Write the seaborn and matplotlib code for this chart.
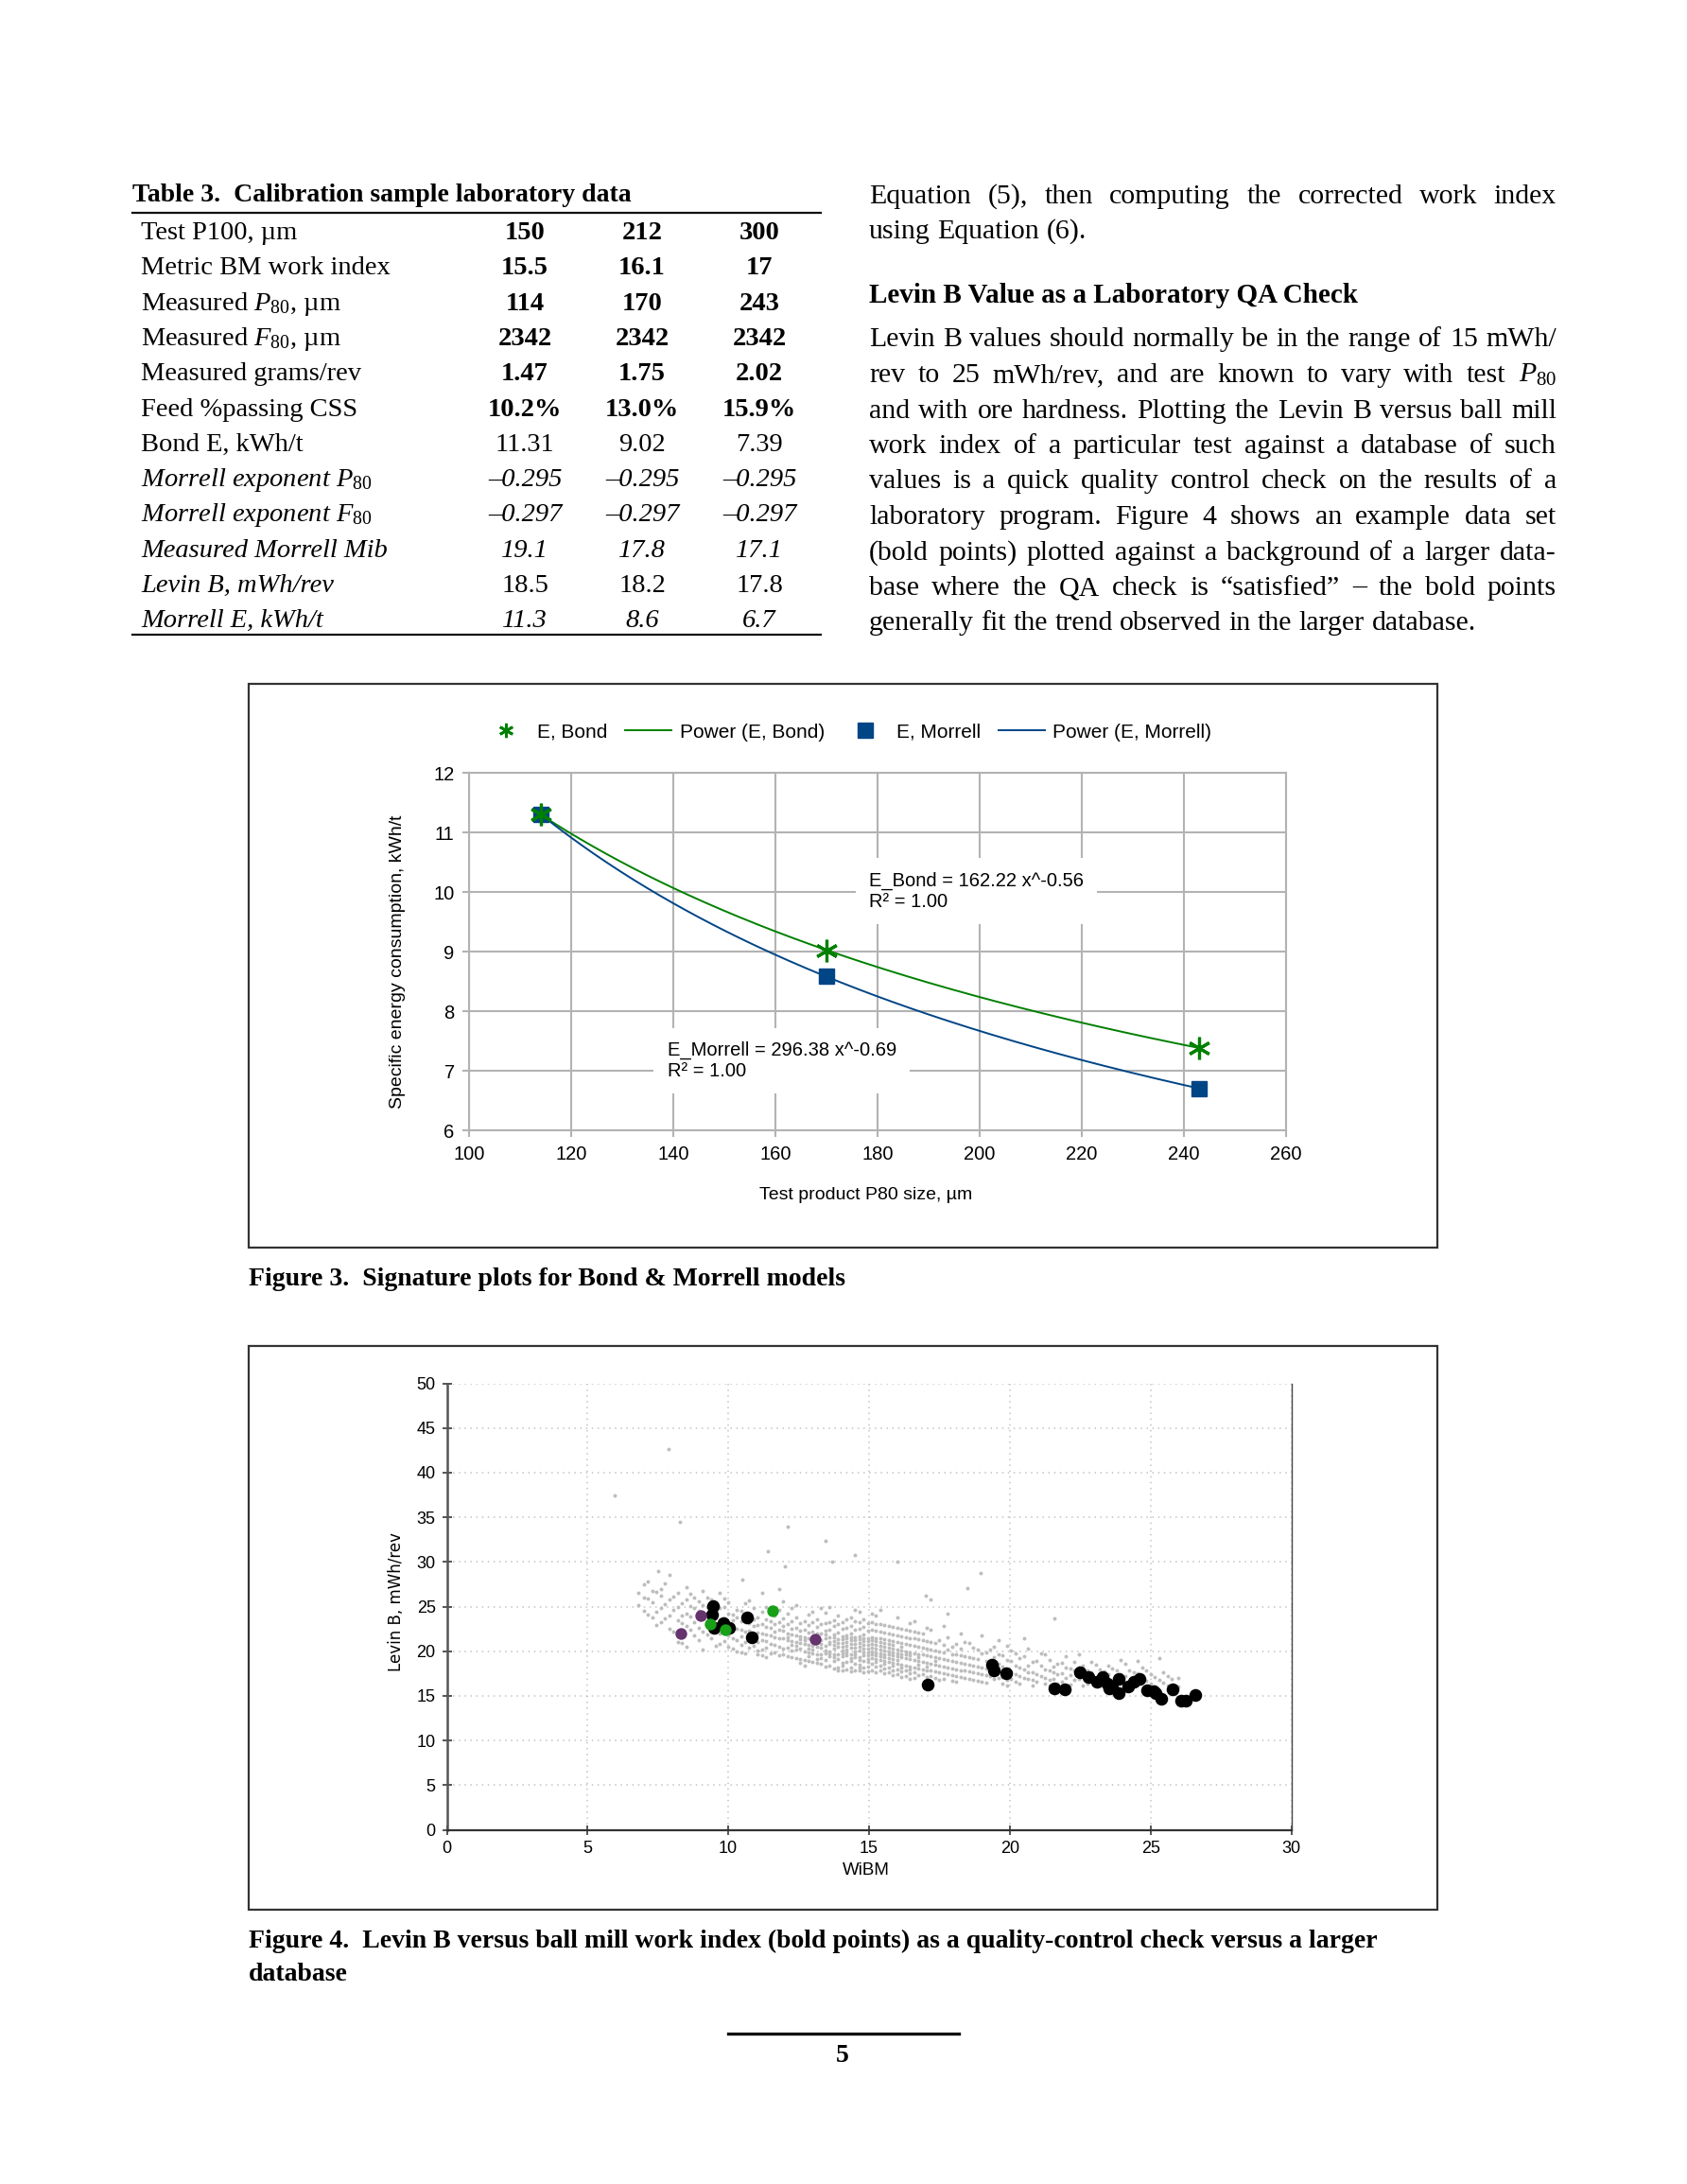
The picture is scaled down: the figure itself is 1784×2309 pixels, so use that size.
import numpy as np
import pandas as pd
import seaborn as sns
import matplotlib.pyplot as plt
from matplotlib.lines import Line2D
from matplotlib.patches import Rectangle

W, H = 1784, 2309
SERIF = 'Liberation Serif'
SANS = 'Liberation Sans'
NARROW = ['Liberation Sans Narrow', 'Liberation Sans']

plt.rcParams['font.family'] = [SANS, 'DejaVu Sans']
plt.rcParams['mathtext.fontset'] = 'custom'
plt.rcParams['mathtext.rm'] = SERIF
plt.rcParams['mathtext.it'] = SERIF + ':italic'
plt.rcParams['mathtext.bf'] = SERIF + ':bold'

# ---- Table 3 ----
row_labels = ['Test P100, µm', 'Metric BM work index', 'Measured $P_{80}$, µm', 'Measured $F_{80}$, µm',
              'Measured grams/rev', 'Feed %passing CSS', 'Bond E, kWh/t', 'Morrell exponent $P_{80}$',
              'Morrell exponent $F_{80}$', 'Measured Morrell Mib', 'Levin B, mWh/rev', 'Morrell E, kWh/t']
vals_150 = ['150', '15.5', '114', '2342', '1.47', '10.2%', '11.31', '–0.295', '–0.297', '19.1', '18.5', '11.3']
vals_212 = ['212', '16.1', '170', '2342', '1.75', '13.0%', '9.02', '–0.295', '–0.297', '17.8', '18.2', '8.6']
vals_300 = ['300', '17', '243', '2342', '2.02', '15.9%', '7.39', '–0.295', '–0.297', '17.1', '17.8', '6.7']
label_style = ['normal'] * 7 + ['italic'] * 5
value_weight = ['bold'] * 6 + ['normal'] * 6
value_style = ['normal'] * 7 + ['italic', 'italic', 'italic', 'normal', 'italic']

# ---- right column text ----
intro_lines = ['Equation (5), then computing the corrected work index', 'using Equation (6).']
heading = 'Levin B Value as a Laboratory QA Check'
para_lines = ['Levin B values should normally be in the range of 15 mWh/',
              'rev to 25 mWh/rev, and are known to vary with test $P_{80}$',
              'and with ore hardness. Plotting the Levin B versus ball mill',
              'work index of a particular test against a database of such',
              'values is a quick quality control check on the results of a',
              'laboratory program. Figure 4 shows an example data set',
              '(bold points) plotted against a background of a larger data-',
              'base where the QA check is “satisfied” – the bold points',
              'generally fit the trend observed in the larger database.']

# ---- Figure 3 data ----
p80 = [114, 170, 243]
e_bond = [11.31, 9.02, 7.39]
e_morrell = [11.3, 8.6, 6.7]

# ---- Figure 4 data ----
black_wibm = [9.46, 9.44, 9.50, 9.83, 10.03, 10.67, 10.84, 17.09, 19.38, 19.45, 19.88, 21.59, 21.97,
              22.48, 22.79, 23.10, 23.31, 23.45, 23.54, 23.65, 23.88, 23.88, 24.21, 24.40, 24.60, 24.88,
              25.10, 25.17, 25.39, 25.80, 26.09, 26.25, 26.59]
black_levin = [25.1, 24.1, 22.6, 23.1, 22.6, 23.8, 21.6, 16.3, 18.5, 17.8, 17.5, 15.8, 15.7,
               17.6, 17.1, 16.6, 17.1, 16.4, 15.8, 15.9, 16.9, 15.3, 16.0, 16.6, 16.9, 15.6,
               15.5, 15.3, 14.7, 15.7, 14.5, 14.5, 15.1]
purple_wibm = [8.31, 9.01, 13.08]
purple_levin = [21.95, 24.03, 21.35]
green_wibm = [9.34, 9.89, 11.58]
green_levin = [23.0, 22.44, 24.49]

# background database, one list of Levin B values per WiBM column
db_wibm = [6.8, 7.0, 7.3, 7.6, 7.9, 8.2, 8.5, 8.8, 9.1, 9.4, 9.7, 10.0, 10.3, 10.6, 10.9, 11.2, 11.5,
           11.8, 12.1, 12.4, 12.7, 13.0, 13.3, 13.6, 13.9, 14.2, 14.5, 14.8, 15.1, 15.4, 15.7, 16.0,
           16.3, 16.6, 16.9, 17.2, 17.5, 17.8, 18.1, 18.4, 18.7, 19.0, 19.3, 19.6, 19.9, 20.2, 20.5,
           20.8, 21.1, 21.4, 21.7, 22.0, 22.3, 22.6, 22.9, 23.2, 23.5, 23.8, 24.1, 24.4, 24.7, 25.0,
           25.3, 25.6, 26.0]
db_levin = [[26.5, 25.2], [27.5, 24.5, 26.0], [25.5, 26.8, 23.8], [26.2, 24.8, 23.2, 27.0],
            [25.8, 24.0, 22.5, 28.5], [25.0, 23.5, 26.5, 21.0], [24.2, 25.8, 22.8, 27.2, 20.5],
            [24.8, 23.2, 26.0, 21.8], [23.8, 25.2, 22.2, 20.2, 26.8], [24.2, 22.8, 21.5, 25.8],
            [23.5, 22.0, 24.8, 20.8, 26.5], [23.0, 21.8, 24.2, 20.5, 25.5, 22.6],
            [22.5, 23.8, 21.2, 20.0, 24.6], [22.2, 23.2, 21.0, 24.0, 19.8, 25.4],
            [22.8, 21.6, 20.6, 23.6, 24.8], [22.0, 21.2, 23.0, 20.2, 24.4, 19.5, 26.5],
            [21.8, 22.6, 20.8, 23.4, 19.8, 25.0], [21.5, 22.4, 20.5, 23.2, 19.5, 24.6, 27.0],
            [21.2, 22.0, 20.4, 23.0, 19.4, 24.2, 21.6], [21.0, 21.8, 20.2, 22.6, 19.2, 23.8, 20.6, 25.2],
            [20.8, 21.6, 20.0, 22.4, 19.0, 23.4, 21.2, 18.4],
            [20.6, 21.4, 19.8, 22.2, 18.8, 23.2, 20.2, 24.4, 21.0],
            [20.4, 21.2, 19.6, 22.0, 18.6, 23.0, 20.8, 19.2, 24.8],
            [20.8, 21.6, 20.0, 22.4, 19.4, 23.2, 18.4, 21.0, 19.8, 25.0],
            [20.5, 21.3, 19.7, 22.1, 19.1, 23.0, 18.2, 20.9, 24.0, 17.8],
            [20.2, 21.0, 19.5, 21.8, 18.8, 22.6, 18.0, 20.6, 19.9, 23.6, 21.4],
            [20.0, 20.8, 19.3, 21.6, 18.6, 22.4, 17.9, 20.4, 19.7, 23.4, 21.2, 24.6],
            [20.3, 21.1, 19.5, 21.9, 18.9, 22.7, 18.2, 20.7, 19.9, 23.6, 21.5, 17.6],
            [20.0, 20.8, 19.2, 21.6, 18.6, 22.4, 17.9, 20.4, 19.6, 23.2, 21.2, 24.2],
            [19.8, 20.6, 19.0, 21.4, 18.4, 22.2, 17.8, 20.2, 19.4, 23.0, 21.0, 24.6],
            [19.6, 20.4, 18.8, 21.2, 18.2, 22.0, 17.6, 20.0, 19.2, 22.8, 20.8],
            [19.4, 20.2, 18.6, 21.0, 18.0, 21.8, 17.4, 19.8, 19.0, 22.6, 23.8],
            [19.2, 20.0, 18.4, 20.8, 17.8, 21.6, 17.2, 19.6, 22.4],
            [19.0, 19.8, 18.2, 20.6, 17.6, 21.4, 17.0, 22.2, 23.4],
            [18.8, 19.6, 18.0, 20.4, 17.4, 21.2, 22.0], [18.6, 19.4, 17.8, 20.2, 17.2, 21.0, 22.4, 25.8],
            [18.4, 19.2, 17.6, 20.0, 21.2, 16.8], [18.2, 19.0, 17.4, 20.2, 21.6, 24.2],
            [18.0, 18.8, 17.2, 19.6, 20.8, 16.6], [17.8, 18.6, 19.4, 17.0, 21.0],
            [17.6, 18.4, 19.2, 20.4, 16.8], [17.4, 18.2, 19.8, 16.6, 21.8], [17.2, 18.0, 19.0, 20.2],
            [17.0, 18.6, 19.6, 21.2], [16.8, 17.8, 19.0, 20.6, 16.2], [17.4, 18.4, 19.8, 16.6],
            [17.0, 18.0, 19.4, 21.4], [16.8, 17.6, 18.8, 16.2], [17.2, 18.4, 19.8],
            [16.8, 17.8, 16.2, 19.0], [17.4, 18.6, 16.4], [17.0, 18.2, 16.0, 19.4], [16.8, 17.8, 18.8],
            [17.2, 16.2, 18.4], [17.6, 16.6, 18.8], [17.0, 18.0, 16.2], [17.4, 18.4, 15.8], [16.8, 17.8],
            [17.2, 18.6, 16.0], [16.6, 17.6], [17.0, 18.2], [16.4, 17.4], [16.8, 19.2], [16.2, 17.2],
            [16.0, 17.0]]
db2_wibm = [7.15, 7.45, 7.75, 8.05, 8.35, 8.65, 8.95, 9.25, 9.55, 9.85, 10.15, 10.45, 10.75, 11.05,
            11.35, 11.65, 11.95, 12.25, 12.55, 12.85, 13.15, 13.45, 13.75, 14.05, 14.35, 14.65, 14.95,
            15.25, 15.55, 15.85, 16.15, 16.45, 16.75, 17.05, 17.35, 17.65, 17.95, 18.25, 18.55, 18.85,
            19.15, 19.45, 19.75, 20.05, 20.35, 20.65, 20.95, 21.25, 21.55, 21.85, 22.15, 22.45, 22.75,
            23.05, 23.35, 23.65, 23.95, 24.25, 24.55, 24.85, 25.15, 25.45, 25.75]
db2_levin = [[25.9, 24.1, 27.8], [26.6, 24.4, 22.9], [25.3, 23.7, 27.6], [24.6, 26.1, 22.2],
             [25.4, 23.1, 24.0, 20.9], [23.9, 25.1, 22.4, 26.4], [24.5, 22.6, 21.2, 25.6],
             [23.4, 24.9, 21.9, 26.0], [23.1, 22.1, 24.6, 20.6], [23.7, 22.3, 21.1, 24.9, 25.9],
             [22.9, 21.5, 23.5, 20.3, 24.1], [22.4, 21.7, 23.4, 20.7, 19.9, 24.5],
             [22.3, 21.3, 23.1, 20.4, 24.2, 25.7], [22.1, 21.0, 22.9, 20.1, 23.8, 19.7],
             [21.9, 21.1, 22.7, 20.4, 23.6, 19.3, 24.9], [21.6, 22.2, 20.7, 23.0, 19.9, 24.0],
             [21.4, 22.3, 20.3, 22.8, 19.6, 23.7, 25.6], [21.1, 21.9, 20.1, 22.5, 19.3, 23.4, 20.7, 24.8],
             [20.9, 21.7, 20.3, 22.3, 19.1, 23.1, 21.3, 18.7],
             [20.7, 21.5, 19.9, 22.1, 18.9, 22.9, 20.3, 19.4, 24.1],
             [20.5, 21.3, 19.7, 22.0, 18.7, 22.7, 20.9, 19.1, 23.6, 21.7],
             [20.6, 21.5, 19.8, 22.3, 19.0, 23.1, 18.3, 20.1, 21.9, 24.3],
             [20.3, 21.1, 19.6, 21.9, 18.9, 22.8, 18.1, 20.7, 19.3, 23.5, 21.6],
             [20.1, 20.9, 19.4, 21.7, 18.7, 22.5, 17.9, 20.5, 19.8, 23.3, 21.3, 18.4],
             [20.4, 21.2, 19.6, 22.0, 18.9, 22.8, 18.2, 20.8, 19.2, 23.8, 21.6, 17.7],
             [20.1, 20.9, 19.3, 21.7, 18.5, 22.5, 17.8, 20.5, 19.0, 23.3, 21.3, 18.2, 24.4],
             [19.9, 20.7, 19.1, 21.5, 18.3, 22.3, 17.7, 20.3, 18.8, 23.1, 21.1, 19.5],
             [19.9, 20.7, 19.1, 21.5, 18.3, 22.3, 17.6, 20.3, 18.8, 23.0, 21.1, 19.5, 24.0],
             [19.7, 20.5, 18.9, 21.3, 18.1, 22.1, 17.5, 20.1, 18.6, 22.9, 20.9, 19.3],
             [19.5, 20.3, 18.7, 21.1, 17.9, 21.9, 17.3, 19.9, 18.4, 22.7, 20.7, 19.1],
             [19.3, 20.1, 18.5, 20.9, 17.7, 21.7, 17.1, 19.7, 18.2, 22.5, 20.5],
             [19.1, 19.9, 18.3, 20.7, 17.5, 21.5, 16.9, 19.5, 18.0, 22.3, 23.1],
             [18.9, 19.7, 18.1, 20.5, 17.3, 21.3, 18.5, 22.1, 19.3],
             [18.7, 19.5, 17.9, 20.3, 17.1, 21.1, 18.3, 22.6], [18.5, 19.3, 17.7, 20.1, 17.0, 20.9, 18.9],
             [18.3, 19.1, 17.5, 19.9, 20.7, 16.9, 22.8], [18.1, 18.9, 17.3, 19.7, 20.5, 16.7],
             [17.9, 18.7, 17.1, 19.5, 20.3, 22.0], [17.7, 18.5, 19.3, 16.9, 20.9],
             [17.5, 18.3, 19.1, 16.7, 20.2], [17.3, 18.1, 18.9, 19.9, 16.5], [16.9, 17.9, 19.3, 20.5],
             [17.1, 18.3, 19.5, 16.4], [16.9, 17.7, 18.9, 20.1], [17.2, 18.2, 16.4, 19.2],
             [16.9, 18.4, 17.6, 20.3], [16.6, 17.4, 18.9], [17.0, 18.0, 16.4, 19.6], [17.6, 16.9, 18.3],
             [16.6, 17.5, 18.7], [17.3, 16.3, 18.1], [16.9, 18.2, 19.6], [16.4, 17.9], [16.8, 18.5],
             [17.7, 16.0], [16.5, 18.1], [17.4, 19.0], [16.3, 17.8], [17.5, 18.9], [16.7, 17.9],
             [16.1, 17.1], [17.6, 16.5], [16.9]]
outlier_wibm = [5.97, 7.89, 8.29, 12.1, 13.44, 14.5, 16.0, 13.7, 11.4, 18.98, 18.5, 17.0, 21.6, 7.5, 12.0, 10.5]
outlier_levin = [37.5, 42.6, 34.5, 34.0, 32.4, 30.8, 30.0, 30.0, 31.2, 28.8, 27.1, 26.2, 23.7, 29.0, 29.5, 28.0]

all_wibm = db_wibm + db2_wibm
all_levin = db_levin + db2_levin
db = pd.DataFrame({
    'WiBM': np.concatenate([np.repeat(all_wibm, [len(c) for c in all_levin]), outlier_wibm]),
    'Levin B': np.concatenate([np.concatenate(all_levin), outlier_levin]),
})


fig = plt.figure(figsize=(W / 100, H / 100), dpi=100)
renderer = fig.canvas.get_renderer()


def fx(x):
    return x / W


def fy(y):
    return 1 - y / H


def hline(x0, x1, y, lw=1.6, color='#111111'):
    fig.add_artist(Line2D([fx(x0), fx(x1)], [fy(y), fy(y)], lw=lw, color=color))


def words_line(line, x0, y, size, x1=None, **kw):
    # place words one by one so that a line can be justified
    words = line.split()
    arts = [fig.text(fx(x0), fy(y), w, fontsize=size, family=SERIF, va='baseline', **kw) for w in words]
    widths = [a.get_window_extent(renderer).width for a in arts]
    if x1 is None or len(words) < 2:
        gap = size * 100 / 72 * 0.25
    else:
        gap = (x1 - x0 - sum(widths)) / (len(words) - 1)
    x = x0
    for a, w in zip(arts, widths):
        a.set_x(fx(x))
        x += w + gap


# ---- table ----
fig.text(fx(140), fy(213), 'Table 3.  Calibration sample laboratory data', family=SERIF,
         fontsize=20, weight='bold', va='baseline')
hline(140, 868, 224.5)
for i, lab in enumerate(row_labels):
    yb = 253 + 37.3 * i
    fig.text(fx(149), fy(yb), lab, family=SERIF, fontsize=20.5, style=label_style[i], va='baseline')
    for xc, col in zip([555, 679, 803], [vals_150, vals_212, vals_300]):
        fig.text(fx(xc), fy(yb), col[i], family=SERIF, fontsize=20.5, ha='center', va='baseline',
                 weight=value_weight[i], style=value_style[i])
hline(140, 868, 671)

# ---- right column ----
words_line(intro_lines[0], 919, 215, 21.5, x1=1646)
words_line(intro_lines[1], 919, 252, 21.5)
fig.text(fx(919), fy(320), heading, family=SERIF, fontsize=21, weight='bold', va='baseline')
for i, line in enumerate(para_lines):
    last = i == len(para_lines) - 1
    words_line(line, 919, 366.5 + 37.5 * i, 21.5, x1=None if last else 1646)

# ---- Figure 3 ----
fig.add_artist(Rectangle((fx(263), fy(1319)), 1257 / W, 596 / H, transform=fig.transFigure,
                         fill=False, ec='#333333', lw=1.6))
ax3 = fig.add_axes([fx(496), fy(1195.3), 864 / W, 378 / H])
green = '#008000'
blue = '#004586'
bond_fit = np.polyfit(np.log(p80), np.log(e_bond), 1)
morrell_fit = np.polyfit(np.log(p80), np.log(e_morrell), 1)
x_fit = np.linspace(p80[0], p80[-1], 150)
sns.lineplot(x=x_fit, y=np.exp(bond_fit[1]) * x_fit ** bond_fit[0], color=green, lw=1.4, ax=ax3, zorder=3)
sns.lineplot(x=x_fit, y=np.exp(morrell_fit[1]) * x_fit ** morrell_fit[0], color=blue, lw=1.4, ax=ax3, zorder=3)
sns.lineplot(x=p80, y=e_morrell, marker='s', ls='', ms=12, color=blue, mec=blue, mew=1, ax=ax3, zorder=4)
sns.lineplot(x=p80, y=e_bond, marker=(6, 2, 0), ls='', ms=17, color=green, mec=green, mew=2.3,
             ax=ax3, zorder=5)

ax3.set_xlim(100, 260)
ax3.set_ylim(6, 12)
ax3.set_xticks(range(100, 261, 20))
ax3.set_yticks(range(6, 13))
ax3.grid(True, color='#b3b3b3', lw=1.5)
ax3.set_axisbelow(True)
for s in ax3.spines.values():
    s.set_color('#b3b3b3')
    s.set_linewidth(1.5)
ax3.tick_params(length=5, width=1.5, color='#b3b3b3', labelsize=14.5, pad=6)
ax3.set_xlabel('Test product P80 size, µm', fontsize=14)
ax3.set_ylabel('Specific energy consumption, kWh/t', fontsize=14)
ax3.xaxis.set_label_coords(0.486, -0.158)
ax3.yaxis.set_label_coords(-0.077, 0.472)

box = dict(boxstyle='square,pad=0.7', fc='white', ec='none')
ax3.text(178.3, 10.02, 'E_Bond = 162.22 x^-0.56\nR² = 1.00', fontsize=14.5, va='center', ha='left',
         bbox=box, zorder=6, linespacing=1.2)
ax3.text(138.8, 7.17, 'E_Morrell = 296.38 x^-0.69\nR² = 1.00', fontsize=14.5, va='center', ha='left',
         bbox=box, zorder=6, linespacing=1.2)

handles = [Line2D([], [], marker=(6, 2, 0), ls='', ms=11, mew=2, color=green),
           Line2D([], [], color=green, lw=1.4),
           Line2D([], [], marker='s', ls='', ms=11, color=blue),
           Line2D([], [], color=blue, lw=1.4)]
ax3.legend(handles, ['E, Bond', 'Power (E, Bond)', 'E, Morrell', 'Power (E, Morrell)'], ncol=4,
           loc='center', bbox_to_anchor=(fx(896), fy(774)), bbox_transform=fig.transFigure,
           frameon=False, fontsize=15, handlelength=2.35, handletextpad=0.4, columnspacing=0.9)

fig.text(fx(263), fy(1359), 'Figure 3.  Signature plots for Bond & Morrell models', family=SERIF,
         fontsize=20, weight='bold', va='baseline')

# ---- Figure 4 ----
fig.add_artist(Rectangle((fx(263), fy(2019)), 1257 / W, 596 / H, transform=fig.transFigure,
                         fill=False, ec='#333333', lw=1.6))
ax4 = fig.add_axes([fx(472.5), fy(1934.5), 893 / W, 472 / H])
sns.scatterplot(data=db, x='WiBM', y='Levin B', color='#bdbdbd', s=8, linewidth=0, ax=ax4, zorder=2)
sns.scatterplot(x=black_wibm, y=black_levin, color='black', s=95, linewidth=0, ax=ax4, zorder=3)
sns.scatterplot(x=purple_wibm, y=purple_levin, color='#66336e', s=80, linewidth=0, ax=ax4, zorder=4)
sns.scatterplot(x=green_wibm, y=green_levin, color='#19a019', s=80, linewidth=0, ax=ax4, zorder=5)

ax4.set_xlim(0, 30)
ax4.set_ylim(0, 50)
ax4.set_xticks(range(0, 31, 5))
ax4.set_yticks(range(0, 51, 5))
ax4.grid(True, ls=(0, (1, 3)), color='#c4c4c4', lw=1.1)
ax4.set_axisbelow(True)
ax4.spines['top'].set_visible(False)
ax4.spines['left'].set_color('#555555')
ax4.spines['left'].set_linewidth(1.8)
ax4.spines['bottom'].set_color('#333333')
ax4.spines['bottom'].set_linewidth(1.6)
ax4.spines['right'].set_color('#444444')
ax4.spines['right'].set_linewidth(1.0)
ax4.tick_params(direction='inout', length=7, width=1.4, color='#555555', labelsize=13, pad=5)
for lbl in ax4.get_xticklabels() + ax4.get_yticklabels():
    lbl.set_fontfamily(NARROW)
ax4.set_xlabel('WiBM', fontsize=13.5, family=NARROW)
ax4.set_ylabel('Levin B, mWh/rev', fontsize=12, family='DejaVu Sans')
ax4.xaxis.set_label_coords(0.497, -0.073)
ax4.yaxis.set_label_coords(-0.05, 0.51)

fig.text(fx(263), fy(2059),
         'Figure 4.  Levin B versus ball mill work index (bold points) as a quality-control check versus a larger',
         family=SERIF, fontsize=20, weight='bold', va='baseline')
fig.text(fx(263), fy(2094), 'database', family=SERIF, fontsize=20, weight='bold', va='baseline')

# ---- footer ----
hline(770, 1014, 2150, lw=2.4)
fig.text(fx(891), fy(2180), '5', family=SERIF, fontsize=20, weight='bold', ha='center', va='baseline')

fig.savefig('out.png', dpi=100)
